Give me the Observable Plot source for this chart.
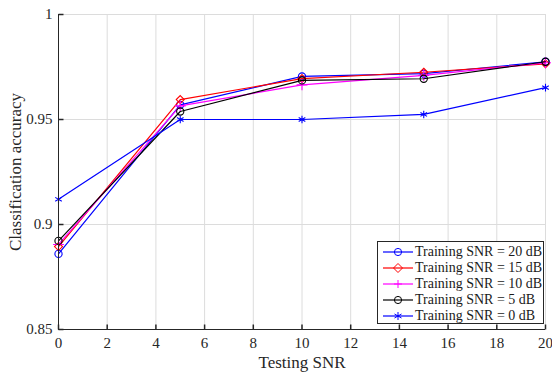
<!DOCTYPE html>
<html>
<head>
<meta charset="utf-8">
<script src="https://cdn.jsdelivr.net/npm/d3@7"></script>
<script src="https://cdn.jsdelivr.net/npm/@observablehq/plot@0.6"></script>
<style>
  html, body { margin: 0; padding: 0; background: #fff; }
  #wrap { position: relative; width: 552px; height: 375px; font-family: "Liberation Serif", "Times New Roman", serif; }
  #legend { position: absolute; left: 377px; top: 241px; width: 167px; height: 83px; border: 1px solid #262626; background: #fff; box-sizing: border-box; font-size: 14px; color: #1a1a1a; }
  #legend .row { position: absolute; left: 0; height: 16px; display: flex; align-items: center; white-space: nowrap; }
  #legend svg { display: block; margin-left: 5px; margin-right: 2px; }
</style>
</head>
<body>
<div id="wrap"><div id="chart"></div><div id="legend"></div></div>
<script>
// ---- data ----
const testingSNR = [0, 5, 10, 15, 20];
const seriesNames = ["Training SNR = 20 dB", "Training SNR = 15 dB", "Training SNR = 10 dB", "Training SNR = 5 dB", "Training SNR = 0 dB"];
const acc20 = [0.886, 0.957, 0.9705, 0.9718, 0.9775];
const acc15 = [0.8895, 0.9595, 0.9695, 0.9725, 0.9765];
const acc10 = [0.8905, 0.9565, 0.9665, 0.9710, 0.9770];
const acc5  = [0.8922, 0.9538, 0.9686, 0.9694, 0.9775];
const acc0  = [0.912, 0.950, 0.950, 0.9524, 0.9652];
const seriesColors = ["#0000ff", "#ff0000", "#ff00ff", "#000000", "#0000ff"];
const seriesSymbols = ["circle", "diamond2", "plus", "circle", "asterisk"];
const xTicks = [0, 2, 4, 6, 8, 10, 12, 14, 16, 18, 20];
const yTicks = [0.85, 0.9, 0.95, 1];

const allSeries = [acc20, acc15, acc10, acc5, acc0];
const seriesRows = allSeries.map(vals => vals.map((v, j) => ({x: testingSNR[j], y: v})));

// inward tick symbols
const tickUp = {draw(ctx) { ctx.moveTo(0, 0); ctx.lineTo(0, -5); }};
const tickRight = {draw(ctx) { ctx.moveTo(0, 0); ctx.lineTo(5, 0); }};

const seriesMarks = seriesRows.flatMap((data, i) => [
  Plot.line(data, {x: "x", y: "y", stroke: seriesColors[i], strokeWidth: 1.2}),
  Plot.dot(data, {x: "x", y: "y", stroke: seriesColors[i], symbol: seriesSymbols[i], r: 3.6, strokeWidth: 1.1, fill: "none"})
]);

const plot = Plot.plot({
  width: 552,
  height: 375,
  marginLeft: 58,
  marginRight: 7,
  marginTop: 14,
  marginBottom: 46,
  style: {fontFamily: "Liberation Serif, Times New Roman, serif", fontSize: "15px", color: "#262626", background: "#fff"},
  x: {domain: [0, 20]},
  y: {domain: [0.85, 1]},
  marks: [
    Plot.gridX(xTicks, {stroke: "#dcdcdc", strokeOpacity: 1}),
    Plot.gridY(yTicks, {stroke: "#dcdcdc", strokeOpacity: 1}),
    ...seriesMarks,
    Plot.ruleX([0], {stroke: "#262626"}),
    Plot.ruleY([0.85], {stroke: "#262626"}),
    Plot.dot(xTicks, {x: d => d, frameAnchor: "bottom", symbol: tickUp, stroke: "#262626", r: 5}),
    Plot.dot(yTicks, {y: d => d, frameAnchor: "left", symbol: tickRight, stroke: "#262626", r: 5}),
    Plot.axisX(xTicks, {tickSize: 0, tickPadding: 8, fontSize: 15, fill: "#262626", label: null}),
    Plot.axisY(yTicks, {tickSize: 0, tickPadding: 6, fontSize: 15, fill: "#262626", label: null, tickFormat: d => String(+d.toFixed(2))}),
    Plot.text(["Testing SNR"], {frameAnchor: "bottom", lineAnchor: "middle", dy: 33, fontSize: 17, fill: "#262626"}),
    Plot.text(["Classification accuracy"], {frameAnchor: "left", textAnchor: "middle", lineAnchor: "middle", dx: -43, rotate: -90, fontSize: 17, fill: "#262626"})
  ]
});
document.getElementById("chart").appendChild(plot);

// legend
const legend = document.getElementById("legend");
const symPaths = {
  circle: '<circle cx="15" cy="8" r="3.6" fill="none" stroke="C"/>',
  diamond2: '<path d="M15,3.5L19.5,8L15,12.5L10.5,8Z" fill="none" stroke="C"/>',
  plus: '<path d="M15,4V12M11,8H19" fill="none" stroke="C"/>',
  asterisk: '<path d="M15,4V12M11.5,6L18.5,10M11.5,10L18.5,6" fill="none" stroke="C"/>'
};
seriesNames.forEach((name, i) => {
  const row = document.createElement("div");
  row.className = "row";
  row.style.top = (1.5 + i * 16.2) + "px";
  const c = seriesColors[i];
  row.innerHTML = `<svg width="30" height="16"><line x1="0" x2="30" y1="8" y2="8" stroke="${c}" stroke-width="1.2"/>${symPaths[seriesSymbols[i]].replace(/C/g, c)}</svg><span>${name}</span>`;
  legend.appendChild(row);
});
</script>
</body>
</html>
